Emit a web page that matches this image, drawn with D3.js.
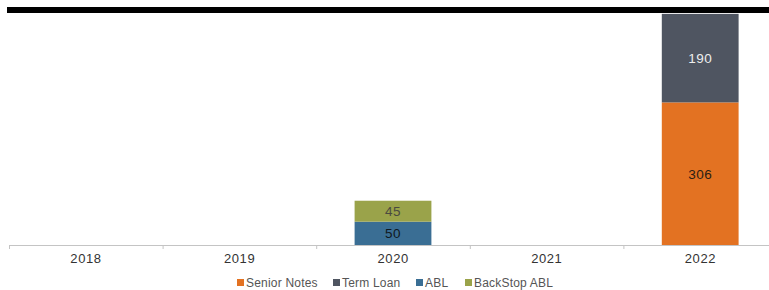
<!DOCTYPE html>
<meta charset="utf-8">
<style>
body { margin: 0; background: #fff; font: 12px "Liberation Sans", Arial, sans-serif; }
.axis text { font: 13px "Liberation Sans", Arial, sans-serif; fill: #333; letter-spacing: 0.6px; }
</style>
<body>
<script src="https://d3js.org/d3.v7.min.js"></script>
<script>
var years = ["2018", "2019", "2020", "2021", "2022"];
var seriesNames = ["Senior Notes", "Term Loan", "ABL", "BackStop ABL"];
var seniorNotes = [0, 0, 0, 0, 306];
var termLoan = [0, 0, 0, 0, 190];
var abl = [0, 0, 50, 0, 0];
var backstopAbl = [0, 0, 45, 0, 0];
var colors = ["#e37222", "#4f5561", "#3a6e94", "#9aa34a"];
var labelColors = ["#2a1e14", "#eeeeee", "#101820", "#4a4a40"];

var width = 769, height = 290;

var svg = d3.select("body").append("svg")
  .attr("width", width)
  .attr("height", height);

var rows = years.map(function(y, i) {
  return {year: y, "Senior Notes": seniorNotes[i], "Term Loan": termLoan[i],
          "ABL": abl[i], "BackStop ABL": backstopAbl[i]};
});

// ABL under backstop, senior notes under term loan
var stackOrder = ["ABL", "BackStop ABL", "Senior Notes", "Term Loan"];
var stacked = d3.stack().keys(stackOrder)(rows);

// the last category runs past the right edge in the original
var xBand = d3.scaleBand().domain(years).range([9, 777]);
var x = d3.scaleBand()
  .domain(years)
  .range([9, 777])
  .paddingInner(0.5)
  .paddingOuter(0.25);

var y = d3.scaleLinear()
  .domain([0, 500])
  .range([245, 12]);

// black top rule
svg.append("rect")
  .attr("x", 7).attr("y", 7)
  .attr("width", width - 7).attr("height", 6)
  .attr("fill", "#000");

var layer = svg.selectAll(".layer")
  .data(stacked)
  .enter().append("g")
  .attr("fill", function(d) { return colors[seriesNames.indexOf(d.key)]; });

layer.selectAll("rect")
  .data(function(d) { return d.filter(function(p) { return p[1] - p[0] > 0; }); })
  .enter().append("rect")
  .attr("x", function(d) { return x(d.data.year); })
  .attr("y", function(d) { return y(d[1]); })
  .attr("width", x.bandwidth())
  .attr("height", function(d) { return y(d[0]) - y(d[1]); });

stacked.forEach(function(s) {
  var k = seriesNames.indexOf(s.key);
  s.forEach(function(p) {
    if (p[1] - p[0] <= 0) return;
    svg.append("text")
      .attr("x", x(p.data.year) + x.bandwidth() / 2)
      .attr("y", (y(p[0]) + y(p[1])) / 2 + 5)
      .attr("text-anchor", "middle")
      .style("font-size", "13.5px")
      .style("letter-spacing", "0.5px")
      .attr("fill", labelColors[k])
      .text(p[1] - p[0]);
  });
});

// x axis, ticks on category boundaries
var axisY = y(0);
var axisG = svg.append("g").attr("class", "axis");
axisG.append("line")
  .attr("x1", 9).attr("x2", width)
  .attr("y1", axisY + 0.5).attr("y2", axisY + 0.5)
  .attr("stroke", "#c4c4c4");
axisG.selectAll(".tk").data(years).enter().append("line")
  .attr("x1", function(d) { return xBand(d) + 0.5; })
  .attr("x2", function(d) { return xBand(d) + 0.5; })
  .attr("y1", axisY).attr("y2", axisY + 4)
  .attr("stroke", "#c4c4c4");
axisG.selectAll(".lbl").data(years).enter().append("text")
  .attr("x", function(d) { return xBand(d) + 77; })
  .attr("y", axisY + 18)
  .attr("text-anchor", "middle")
  .text(function(d) { return d; });

// legend
var legendX = [237, 333, 416, 465];
var legend = svg.selectAll(".legend")
  .data(seriesNames)
  .enter().append("g")
  .attr("transform", function(d, i) { return "translate(" + legendX[i] + ",278)"; });
legend.append("rect")
  .attr("y", 1)
  .attr("width", 7).attr("height", 7)
  .attr("fill", function(d, i) { return colors[i]; });
legend.append("text")
  .attr("x", 9).attr("y", 9)
  .style("font-size", "12px")
  .style("letter-spacing", "0.2px")
  .attr("fill", "#555")
  .text(function(d) { return d; });
</script>
</body>
